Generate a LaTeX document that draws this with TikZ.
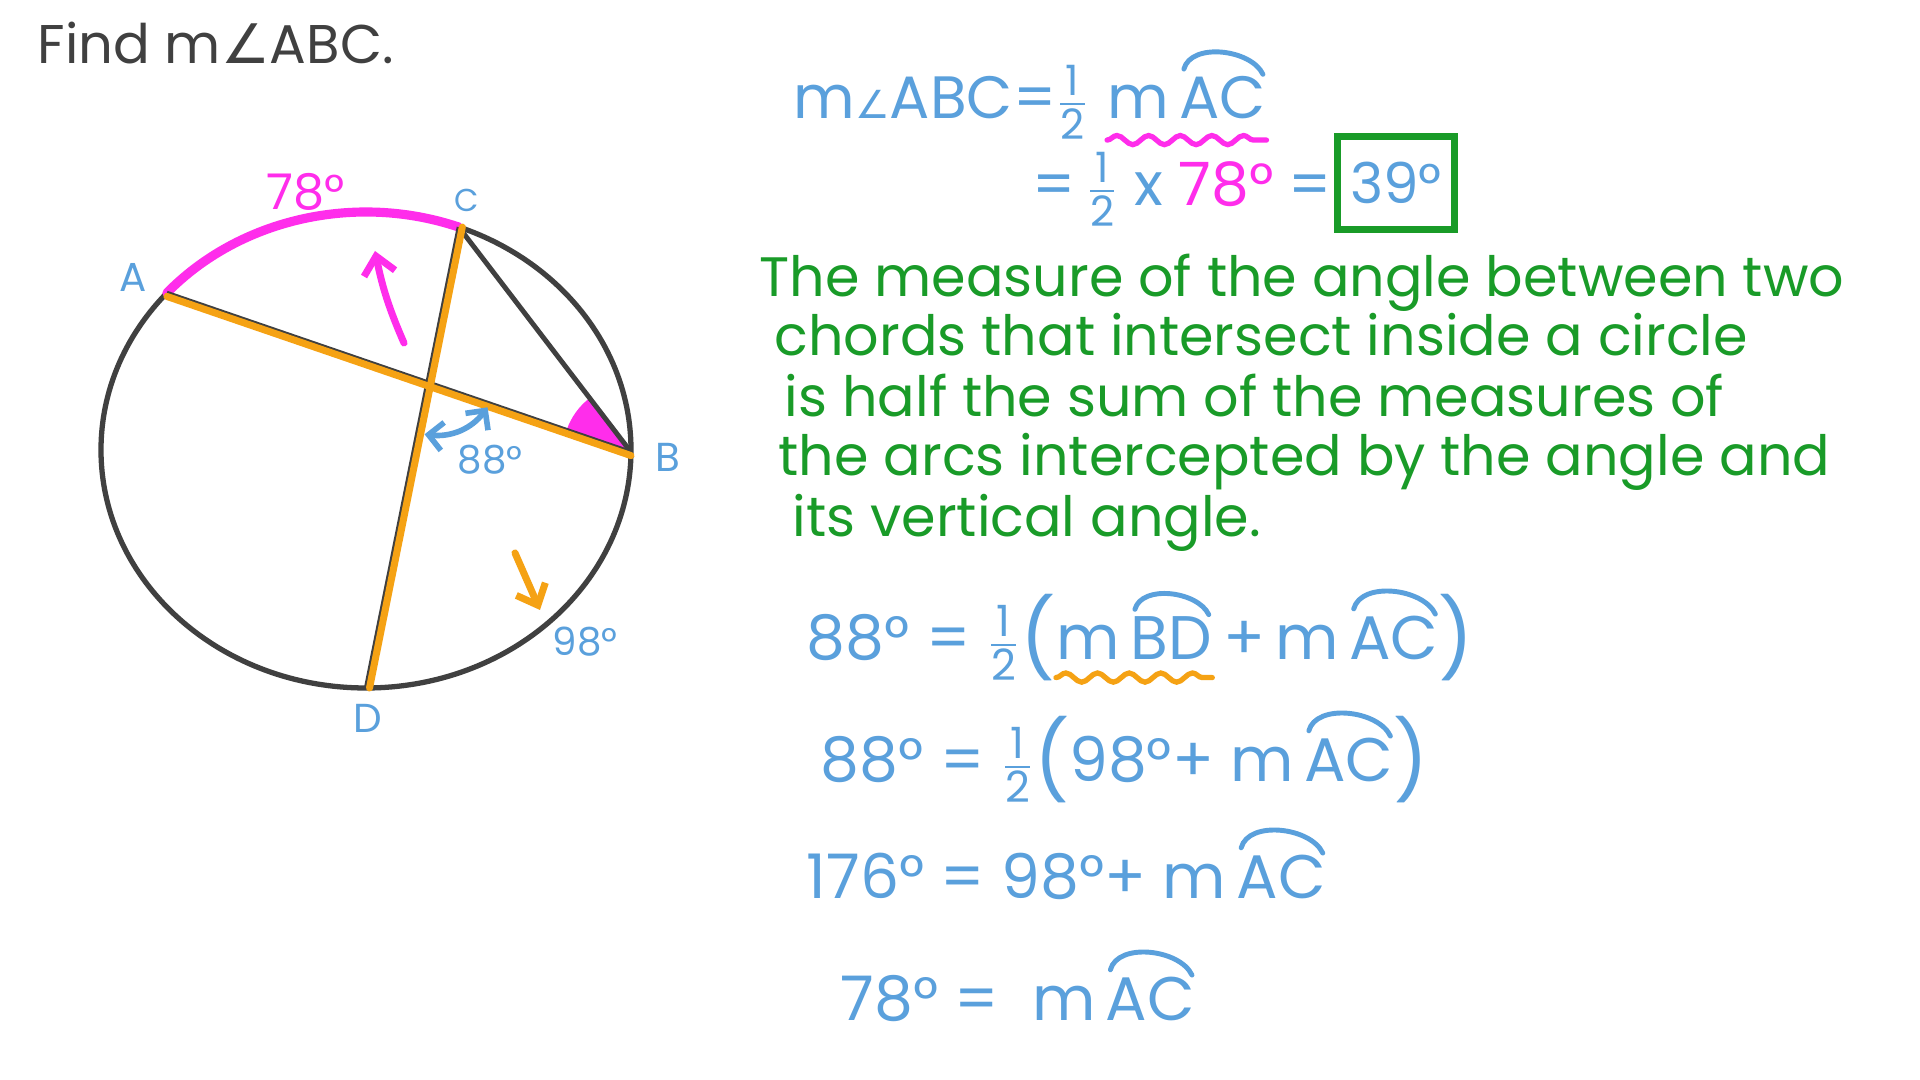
\documentclass[tikz,border=0pt]{standalone}
\usepackage{fontspec}
\usepackage{amsmath}
\setmainfont{Poppins}
\newfontfamily\symfont{DejaVu Sans}
\usetikzlibrary{arrows.meta,calc,decorations.pathmorphing}

\definecolor{inkblue}{RGB}{90,160,220}
\definecolor{inkpink}{RGB}{255,45,235}
\definecolor{inkgreen}{RGB}{25,155,40}
\definecolor{inkorange}{RGB}{245,162,20}
\definecolor{inkgray}{RGB}{64,64,64}

\newcommand{\half}{$\frac{\text{1}}{\text{2}}$}
\newcommand{\angsym}{{\symfont\fontsize{11}{11}\selectfont ∠}}
\newcommand{\lp}{\raisebox{-0.1em}{\fontsize{22}{22}\selectfont(}}
\newcommand{\rp}{\raisebox{-0.1em}{\fontsize{22}{22}\selectfont)}}
\newcommand{\arcover}[1]{\tikz[x=1pt,y=1pt,baseline=(arctxt.base)]{\node[inner sep=0pt] (arctxt) {#1};
  \draw[inkblue, line width=1.4pt, line cap=round] ([xshift=1.5pt,yshift=2pt]arctxt.north west) to[out=75,in=115,looseness=0.9] ([xshift=-1pt,yshift=0.5pt]arctxt.north east);}}

\begin{document}
\begin{tikzpicture}[x=0.01cm,y=-0.01cm,
  eqn/.style={inner sep=0pt, text=inkblue, font=\fontsize{17.5}{21}\selectfont, anchor=base west},
  note/.style={inner sep=0pt, text=inkgreen, font=\fontsize{15.8}{18}\selectfont, anchor=base west},
  ptlabel/.style={text=inkblue, font=\fontsize{11.5}{13}\selectfont, inner sep=0pt},
  rim/.style={inkgray, line width=1.5pt},
  chord/.style={inkorange, line width=2pt, line cap=round},
  squiggle/.style={decorate, decoration={snake, amplitude=1.3pt, segment length=9pt}, line width=1.5pt, line cap=round},
  barb/.style={line width=2pt, line cap=round, -{Straight Barb[length=5pt,width=9pt]}}]
  \fill[white] (0,0) rectangle (1920,1080);
  \useasboundingbox (0,0) rectangle (1920,1080);

  % Question
  \node[anchor=west, text=inkgray, font=\fontsize{15.5}{18}\selectfont, inner sep=0pt] (title) at (37,43) {Find m{\symfont ∠}ABC.};

  % Define the circle and the points on it
  \coordinate (O) at (366,450);
  \coordinate (A) at ($(O)+(221.3:265 and 238)$);
  \coordinate (C) at ($(O)+(290.5:265 and 238)$);
  \coordinate (B) at ($(O)+(0.5:265 and 238)$);
  \coordinate (D) at ($(O)+(90:265 and 238)$);
  \coordinate (X) at (intersection of A--B and C--D);

  \draw[rim] (O) ellipse [x radius=265, y radius=238];
  \draw[inkpink, line width=2.6pt, line cap=round] (A) arc[start angle=221.3, end angle=290.5, x radius=265, y radius=238];
  \fill[inkpink] (B) -- ++(198.8:68) arc[start angle=198.8, end angle=232.6, radius=68] -- cycle;

  % Add chords
  \draw[inkgray, line width=1.4pt] (C) -- (B);
  \draw[inkgray, line width=1.2pt] (A) -- (B) (C) -- (D);
  \draw[chord] ([yshift=-1pt]A) -- ([yshift=-1pt]B);
  \draw[chord] ([xshift=1pt]C) -- ([xshift=1pt]D);

  % Add arrows
  \draw[inkpink, barb] (404,343) to[bend left=6] (375,251);
  \draw[inkorange, barb] (515,553) -- (540,610);
  \draw[inkblue, line width=1.6pt, {Straight Barb[length=4pt,width=8pt]}-{Straight Barb[length=4pt,width=8pt]}] ($(X)+(-3,52)$) to[bend right=30] ($(X)+(60,25)$);

  % Add labels
  \node[ptlabel] (labA) at (133,278) {A};
  \node[ptlabel, font=\fontsize{9}{10}\selectfont] (labC) at (467,200) {C};
  \node[ptlabel] (labB) at (668,457) {B};
  \node[ptlabel] (labD) at (368,718) {D};
  \node[text=inkpink, font=\fontsize{14}{16}\selectfont, inner sep=0pt] (arcAC) at (306,192) {78°};
  \node[ptlabel, font=\fontsize{11}{13}\selectfont] (angX) at (490,460) {88°};
  \node[ptlabel, font=\fontsize{11}{13}\selectfont] (arcBD) at (585,642) {98°};

  % Working
  \node[eqn, font=\fontsize{17}{20}\selectfont] (lhs1) at (793,119) {m\angsym ABC=\half};
  \node[eqn, font=\fontsize{17}{20}\selectfont] (mac1) at ([xshift=5pt]lhs1.base east) {m\,\arcover{AC}};
  \draw[inkpink, squiggle] ([yshift=-6pt]mac1.base west) -- ([yshift=-6pt]mac1.base east);

  \node[eqn, font=\fontsize{17}{20}\selectfont] (rhs2) at (1032,206) {=\,\half\ x \textcolor{inkpink}{78°}};
  \node[eqn, font=\fontsize{17}{20}\selectfont] (eq2) at (1288,206) {=};
  \node[draw=inkgreen, line width=2.2pt, minimum width=1.17cm, minimum height=0.93cm, text=inkblue,
    font=\fontsize{16}{19}\selectfont, inner sep=0pt] (ans) at (1396,183) {39°};

  \foreach \txt/\xx/\yy [count=\k] in {The measure of the angle between two/759/297,
      chords that intersect inside a circle/774/356,
      is half the sum of the measures of/784/417,
      the arcs intercepted by the angle and/778/476,
      its vertical angle./792/537}
    \node[note] (note\k) at (\xx,\yy) {\txt};

  \node[eqn] (lhsE1) at (806,660) {88° = \half\lp};
  \node[eqn] (mbd) at (lhsE1.base east) {m\,\arcover{BD}};
  \node[eqn] (restE1) at (mbd.base east) {\,+\,m\,\arcover{AC}\rp};
  \draw[inkorange, squiggle] ([yshift=-5pt]mbd.base west) -- ([yshift=-5pt]mbd.base east);

  \node[eqn] (lineE2) at (820,782) {88° = \half\lp 98°+ m\,\arcover{AC}\rp};
  \node[eqn] (lineE3) at (806,899) {176° = 98°+ m\,\arcover{AC}};
  \node[eqn] (lineE4) at (840,1021) {78° = \ m\,\arcover{AC}};
\end{tikzpicture}
\end{document}
